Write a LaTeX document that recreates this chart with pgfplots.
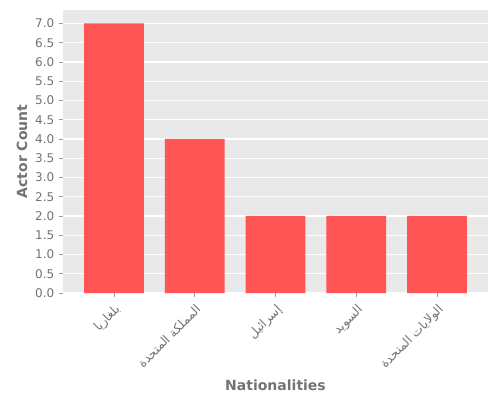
\documentclass[border=0pt]{standalone}
\usepackage{fontspec}
\setmainfont{DejaVu Sans}
\newfontfamily\arabicfont[Script=Arabic]{DejaVu Sans}
\TeXXeTstate=1
\usepackage{pgfplots}
\pgfplotsset{compat=1.18}

\definecolor{bgray}{RGB}{233,233,233}
\definecolor{txtgray}{RGB}{115,115,115}
\definecolor{barred}{RGB}{255,85,85}

\begin{document}
\begin{tikzpicture}
\path[use as bounding box] (0,0) rectangle (375pt,300pt);
\begin{axis}[
    at={(47.25pt,80.25pt)}, anchor=south west,
    scale only axis,
    width=318.75pt, height=212.25pt,
    xmin=-0.63, xmax=4.63,
    ymin=0, ymax=7.35,
    axis background/.style={fill=bgray},
    axis line style={draw=none},
    xtick=data,
    xticklabels={
        {\arabicfont\beginR بلغاريا\endR},
        {\arabicfont\beginR المملكة المتحدة\endR},
        {\arabicfont\beginR إسرائيل\endR},
        {\arabicfont\beginR السويد\endR},
        {\arabicfont\beginR الولايات المتحدة\endR}},
    xticklabel style={rotate=45, anchor=north east, font=\fontsize{9.3}{10}\selectfont, text=txtgray},
    ytick={0,0.5,...,7.0},
    yticklabel style={font=\fontsize{9}{10}\selectfont, text=txtgray,
        /pgf/number format/.cd, fixed, fixed zerofill, precision=1},
    /pgf/number format/assume math mode=true,
    tick align=outside,
    major tick length=3pt,
    tick style={draw=txtgray!70, line width=0.5pt},
    xtick pos=bottom, ytick pos=left,
    ymajorgrids, grid style={white, line width=0.8pt},
    xlabel={\textbf{Nationalities}},
    ylabel={\textbf{Actor Count}},
    label style={font=\fontsize{10.5}{12}\selectfont, text=txtgray},
    xlabel style={yshift=1.5pt},
    ylabel style={yshift=-1pt},
    ybar, bar width=0.74,
]
\addplot[fill=barred, draw=none] coordinates {
    (0,7) (1,4) (2,2) (3,2) (4,2)
};
\end{axis}
\end{tikzpicture}
\end{document}
